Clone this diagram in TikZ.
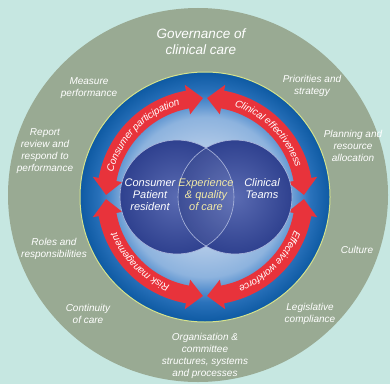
\documentclass[tikz,border=0pt]{standalone}
\usepackage{fontspec}
\setmainfont{Liberation Sans}
\usetikzlibrary{positioning, decorations.text}
\definecolor{paleteal}{HTML}{C6E7E1}
\definecolor{sagegrey}{HTML}{99AA93}
\definecolor{rimyellow}{HTML}{D6E38C}
\definecolor{arrowred}{HTML}{E8333B}
\definecolor{creamtext}{HTML}{F1E9A6}
\definecolor{navyedge}{HTML}{2F418F}
\definecolor{navymid}{HTML}{5A6BB2}
\definecolor{vennline}{HTML}{AEB9DE}
\definecolor{discA}{HTML}{C9DBF0}
\definecolor{discB}{HTML}{BACFEA}
\definecolor{discC}{HTML}{8DB3DE}
\definecolor{discD}{HTML}{5A92CF}
\definecolor{discE}{HTML}{2A72BB}
\definecolor{discF}{HTML}{0E5AA3}
\pgfdeclareradialshading{bluedisc}{\pgfpoint{0bp}{0bp}}{color(0bp)=(discA); color(8bp)=(discB); color(16bp)=(discC); color(18.5bp)=(discD); color(21bp)=(discE); color(25bp)=(discF); color(50bp)=(discF)}
% curved double headed arrow, clockwise from #1 to #2 (degrees)
\newcommand{\ringarrow}[2]{%
  \fill[arrowred] (#1:99) -- (#1-9:114) -- (#1-9:108) arc[start angle=#1-9, end angle=#2+9, radius=108]
    -- (#2+9:114) -- (#2:99) -- (#2+9:84) -- (#2+9:90) arc[start angle=#2+9, end angle=#1-9, radius=90]
    -- (#1-9:84) -- cycle;}
\newcommand{\ringtext}[3]{%
  \path[decorate, decoration={text along path, text={|\fontsize{10}{12}\selectfont\itshape|#3}, text color=white, text align=center, raise=-3.6pt}]
    (#1-9:99) arc[start angle=#1-9, end angle=#2+9, radius=99];}

\begin{document}
\begin{tikzpicture}[x=1pt, y=1pt,
  outtext/.style={text=white, align=center, inner sep=0pt, font=\fontsize{10}{11.8}\selectfont\itshape},
  venntext/.style={text=white, align=center, inner sep=0pt, font=\fontsize{11}{12}\selectfont\itshape}]
\fill[paleteal] (0,0) rectangle (390,384);
\useasboundingbox (0,0) rectangle (390,384);
% outer governance ring
\fill[sagegrey] (198,189) ellipse[x radius=190, y radius=187];
\coordinate (centre) at (205,187);
% blue disc
\shade[shading=bluedisc] (centre) circle[radius=125];
\draw[rimyellow, line width=1] (centre) circle[radius=125];
% four arrows round the disc
\begin{scope}[shift={(centre)}]
\ringarrow{178.8}{91.2}
\ringarrow{88.8}{1.2}
\ringarrow{-1.2}{-88.8}
\ringarrow{-91.2}{-178.8}
\ringtext{178.8}{91.2}{Consumer participation}
\ringtext{88.8}{1.2}{Clinical effectiveness}
\ringtext{-1.2}{-88.8}{Effective workforce}
\ringtext{-91.2}{-178.8}{Risk management}
\end{scope}
% venn circles
\shade[inner color=navymid, outer color=navyedge] (177,187) circle[radius=57];
\shade[inner color=navymid, outer color=navyedge] (235,187) circle[radius=57];
\begin{scope}
\clip (177,187) circle[radius=57];
\fill[white, opacity=0.07] (235,187) circle[radius=57];
\end{scope}
\draw[vennline, line width=0.6] (177,187) circle[radius=57];
\draw[vennline, line width=0.6] (235,187) circle[radius=57];
\node (patient) at (150,189) [venntext] {Consumer\\Patient\\resident};
\node (experience) at (206,189) [venntext, text=creamtext] {Experience\\\& quality\\of care};
\node (teams) at (262,195) [venntext] {Clinical\\Teams};
% labels in the outer ring
\node (governance) at (201,342) [outtext, font=\fontsize{13.5}{16}\selectfont\itshape] {Governance of\\clinical care};
\node (measure) at (89,296) [outtext] {Measure\\performance};
\node (priorities) at (312,298) [outtext] {Priorities and\\strategy};
\node (report) at (45,233) [outtext] {Report\\review and\\respond to\\performance};
\node (planning) at (353,238) [outtext] {Planning and\\resource\\allocation};
\node (roles) at (54,135) [outtext] {Roles and\\responsibilities};
\node (culture) at (357,134) [outtext] {Culture};
\node (continuity) at (88,70) [outtext] {Continuity\\of care};
\node (legislative) at (310,70) [outtext] {Legislative\\compliance};
\node (organisation) at (205,28) [outtext] {Organisation \&\\committee\\structures, systems\\and processes};
\end{tikzpicture}
\end{document}
